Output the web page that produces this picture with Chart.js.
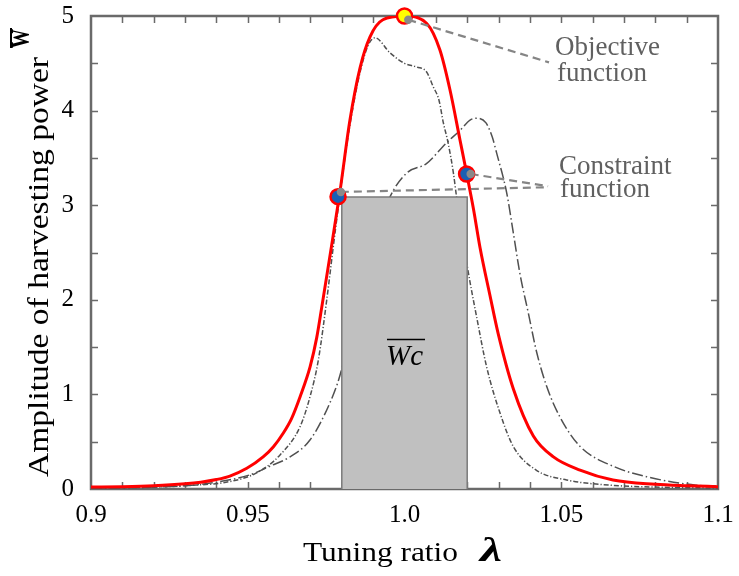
<!DOCTYPE html>
<html><head><meta charset="utf-8">
<script src="https://cdn.jsdelivr.net/npm/chart.js@4.4.1/dist/chart.umd.min.js"></script>
<style>html,body{margin:0;padding:0;background:#fff;}</style>
</head><body>
<canvas id="c" width="739" height="576" style="width:739px;height:576px;display:block"></canvas>
<script>
// ---- data ----
const redLambda = [0.900,0.910,0.920,0.930,0.935,0.940,0.9443,0.9497,0.9550,0.9582,0.9613,0.9640,0.9667,0.9699,0.9720,0.9736,0.9765,0.9794,0.9826,0.9858,0.9890,0.9931,1.0000,1.0071,1.0113,1.0145,1.0177,1.0198,1.0220,1.0241,1.0273,1.0299,1.0347,1.0411,1.0475,1.0560,1.0665,1.0800,1.0900,1.1000];
const redW      = [0.02,0.025,0.035,0.055,0.072,0.10,0.137,0.219,0.342,0.447,0.589,0.747,0.976,1.293,1.60,1.92,2.52,3.14,3.90,4.45,4.78,4.96,5.0,4.92,4.64,4.22,3.69,3.34,2.96,2.55,2.04,1.64,1.06,0.56,0.34,0.20,0.095,0.05,0.035,0.025];

const aLambda = [0.900,0.920,0.930,0.9440,0.9528,0.9603,0.9667,0.9699,0.9725,0.9752,0.9780,0.9826,0.9874,0.9906,0.9954,1.0000,1.0040,1.0070,1.0092,1.0110,1.0124,1.0139,1.0156,1.0166,1.0202,1.0230,1.0262,1.0305,1.0347,1.0420,1.0517,1.0660,1.0800,1.1000];
const aW      = [0.01,0.02,0.035,0.077,0.17,0.36,0.66,0.98,1.36,2.0,2.75,3.85,4.60,4.77,4.61,4.50,4.46,4.41,4.25,4.11,3.87,3.66,3.34,3.09,2.32,1.82,1.29,0.80,0.45,0.20,0.095,0.04,0.02,0.01];

const bLambda = [0.900,0.920,0.935,0.9507,0.9570,0.9635,0.9699,0.9762,0.9794,0.9850,0.9900,0.9954,1.0007,1.0070,1.0134,1.0177,1.0209,1.0230,1.0260,1.0280,1.0294,1.0326,1.0347,1.0368,1.0395,1.0422,1.0454,1.0496,1.0560,1.0666,1.0772,1.0930,1.1000];
const bW      = [0.005,0.02,0.05,0.15,0.24,0.34,0.52,0.91,1.2,2.0,2.6,3.09,3.34,3.44,3.66,3.79,3.90,3.92,3.87,3.72,3.55,3.13,2.71,2.28,1.86,1.44,1.08,0.76,0.45,0.24,0.13,0.04,0.03];

const boxLambda = [0.98,0.98,1.02,1.02];
const boxW      = [0,3.087,3.087,0];

const markerLambda = [1.0000,0.9788,1.0198];
const markerW      = [5.0,3.09,3.33];
const markerColors = ['#ffff00','#1a5fb4','#1a5fb4'];
const dotLambda = [1.0012,0.9797,1.0211];
const dotW      = [4.96,3.14,3.33];

const objLineLambda = [1.0012,1.0461];
const objLineW      = [4.96,4.51];
const con1LineLambda = [1.0211,1.0458];
const con1LineW      = [3.33,3.20];
const con2LineLambda = [0.9797,1.0458];
const con2LineW      = [3.14,3.19];

const xTickValues = [0.9,0.95,1.0,1.05,1.1];
const xTickLabels = ['0.9','0.95','1.0','1.05','1.1'];
const yTickValues = [0,1,2,3,4,5];
const yTickLabels = ['0','1','2','3','4','5'];
const xMinorTicks = [0.91,0.92,0.93,0.94,0.95,0.96,0.97,0.98,0.99,1.00,1.01,1.02,1.03,1.04,1.05,1.06,1.07,1.08,1.09];
const yMinorTicks = [0.5,1,1.5,2,2.5,3,3.5,4,4.5];

const xTitle = 'Tuning ratio';
const xTitleSymbol = 'λ';
const yTitle = 'Amplitude of harvesting power';
const yTitleSymbol = 'W';
const boxLabel = 'Wc';
const objText = ['Objective','function'];
const conText = ['Constraint','function'];

// ---- helpers ----
const pts = (xs, ys) => xs.map((v,i)=>({x:v,y:ys[i]}));
const SERIF = "'Liberation Serif','Times New Roman',serif";

function stretchedText(ctx, text, x, y, targetWidth){
  const w = ctx.measureText(text).width;
  ctx.save();
  ctx.translate(x, y);
  ctx.scale(targetWidth / w, 1);
  ctx.fillText(text, 0, 0);
  ctx.restore();
}

const deco = {
  id:'deco',
  beforeDatasetsDraw(chart){
    const {ctx, chartArea:a, scales:{x,y}} = chart;
    ctx.save();
    ctx.strokeStyle = '#6a6a6a';
    ctx.lineWidth = 1.5;
    ctx.beginPath();
    xMinorTicks.forEach(v=>{
      const px = Math.round(x.getPixelForValue(v))+0.5;
      ctx.moveTo(px,a.bottom); ctx.lineTo(px,a.bottom-7);
      ctx.moveTo(px,a.top); ctx.lineTo(px,a.top+7);
    });
    yMinorTicks.forEach(v=>{
      const py = Math.round(y.getPixelForValue(v))+0.5;
      ctx.moveTo(a.left,py); ctx.lineTo(a.left+7,py);
      ctx.moveTo(a.right,py); ctx.lineTo(a.right-7,py);
    });
    ctx.stroke();
    ctx.lineWidth = 2.5;
    ctx.strokeRect(a.left,a.top,a.right-a.left,a.bottom-a.top);
    ctx.restore();
  },
  afterDraw(chart){
    const {ctx, scales:{x,y}} = chart;
    ctx.save();
    // annotations
    ctx.fillStyle = '#606060';
    ctx.font = '27px '+SERIF;
    ctx.textBaseline = 'middle';
    ctx.textAlign = 'left';
    ctx.fillText(objText[0], 555, 48);
    ctx.fillText(objText[1], 557, 74);
    ctx.fillText(conText[0], 559, 167);
    ctx.fillText(conText[1], 560, 190);
    // box label
    ctx.fillStyle = '#000';
    ctx.font = 'italic 29px '+SERIF;
    ctx.textBaseline = 'alphabetic';
    const bx = x.getPixelForValue(1.0);
    const bw = ctx.measureText(boxLabel).width;
    ctx.fillText(boxLabel, bx - bw/2, 365);
    ctx.strokeStyle = '#000'; ctx.lineWidth = 1.5;
    ctx.beginPath(); ctx.moveTo(bx-bw/2+1, 339.5); ctx.lineTo(bx+bw/2+2, 339.5); ctx.stroke();
    // x title
    ctx.font = '27px '+SERIF;
    stretchedText(ctx, xTitle, 303, 561, 155);
    ctx.font = 'italic bold 33px '+SERIF;
    stretchedText(ctx, xTitleSymbol, 480, 561, 22);
    // y title
    ctx.translate(48, 477);
    ctx.rotate(-Math.PI/2);
    ctx.font = '29px '+SERIF;
    stretchedText(ctx, yTitle, 0, 0, 420);
    ctx.font = 'bold 26px '+SERIF;
    const ww = ctx.measureText(yTitleSymbol).width;
    ctx.save();
    ctx.translate(429, -19);
    ctx.scale(19/ww, 1);
    ctx.fillText(yTitleSymbol, 0, 0);
    ctx.restore();
    ctx.lineWidth = 2;
    ctx.beginPath(); ctx.moveTo(429, -37); ctx.lineTo(449, -37); ctx.stroke();
    ctx.restore();
  }
};

const curveLine = (data, dash, order) => ({
  type:'line', data, borderColor:'#505050', borderWidth:1.5, borderDash:dash,
  pointRadius:0, fill:false, cubicInterpolationMode:'monotone', order
});
const annLine = (data) => ({
  type:'line', data, borderColor:'#858585', borderWidth:2.2, borderDash:[8,5],
  pointRadius:0, fill:false, tension:0, order:3, clip:false
});
const noPad = s => { s.paddingTop = 0; s.paddingBottom = 0; s.paddingLeft = 0; s.paddingRight = 0; };

new Chart(document.getElementById('c'), {
  type:'line',
  data:{ datasets:[
    curveLine(pts(aLambda,aW), [5,2,1.2,2], 7),
    curveLine(pts(bLambda,bW), [11,3,1.5,3], 7),
    { type:'line', data:pts(boxLambda,boxW), borderColor:'#7a7a7a', borderWidth:1.5,
      backgroundColor:'#c0c0c0', fill:'origin', pointRadius:0, tension:0, order:5 },
    { type:'line', data:pts(redLambda,redW), borderColor:'#ff0000', borderWidth:3,
      pointRadius:0, fill:false, cubicInterpolationMode:'monotone', order:4 },
    annLine(pts(objLineLambda,objLineW)),
    annLine(pts(con1LineLambda,con1LineW)),
    annLine(pts(con2LineLambda,con2LineW)),
    { type:'line', data:pts(markerLambda,markerW), showLine:false, pointRadius:7.5,
      pointBorderWidth:2.5, pointBorderColor:'#ff0000', pointBackgroundColor:markerColors,
      order:2, clip:false },
    { type:'line', data:pts(dotLambda,dotW), showLine:false, pointRadius:4.2,
      pointBorderWidth:0, pointBackgroundColor:'#8a8a8a', pointBorderColor:'#8a8a8a', order:1, clip:false }
  ]},
  options:{
    responsive:false, animation:false, devicePixelRatio:1,
    layout:{ padding:{left:0, right:21, top:16, bottom:0} },
    plugins:{ legend:{display:false}, tooltip:{enabled:false} },
    scales:{
      x:{ type:'linear', min:0.9, max:1.1,
        grid:{display:false, drawTicks:false}, border:{display:false},
        afterBuildTicks:s=>{ s.ticks = xTickValues.map(v=>({value:v})); },
        ticks:{ autoSkip:false, maxRotation:0, padding:11, color:'#000',
          font:{family:SERIF, size:25},
          callback:(v,i)=>xTickLabels[i] },
        afterFit:s=>{ s.height = 87; noPad(s); } },
      y:{ type:'linear', min:0, max:5,
        grid:{display:false, drawTicks:false}, border:{display:false},
        afterBuildTicks:s=>{ s.ticks = yTickValues.map(v=>({value:v})); },
        ticks:{ padding:17, color:'#000', font:{family:SERIF, size:25},
          callback:(v,i)=>yTickLabels[i] },
        afterFit:s=>{ s.width = 91; noPad(s); } }
    }
  },
  plugins:[deco]
});
</script>
</body></html>
